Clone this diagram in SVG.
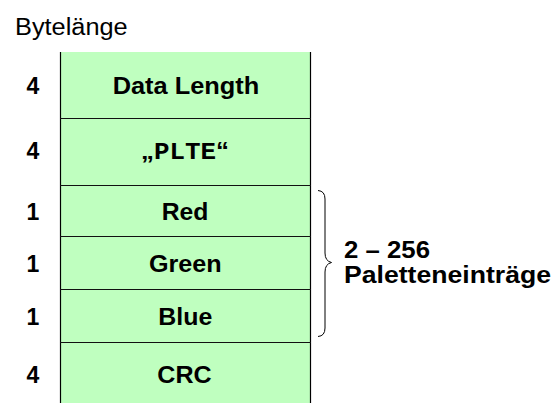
<svg xmlns="http://www.w3.org/2000/svg" width="555" height="403" viewBox="0 0 555 403">
  <style>
    .cell { fill: #BFFFBF; stroke: none; }
    .sep { stroke: #111; stroke-width: 1; fill: none; }
    .side { stroke: #000; stroke-width: 1.2; fill: none; }
    .t { font-family: "Liberation Sans", Arial, sans-serif; font-size: 23px; fill: #000; }
    .b { font-weight: bold; }
    .mono { font-family: "Liberation Mono", "Courier New", monospace; font-weight: bold; }
    .brace { stroke: #000; stroke-width: 1; fill: none; }
  </style>

  <rect width="555" height="403" fill="#fff"/>

  <text class="t" x="15" y="35" textLength="112.7" lengthAdjust="spacingAndGlyphs">Bytelänge</text>

  <!-- chunk fields -->
  <g id="field-length">
    <rect class="cell" x="60" y="52" width="251" height="66.5"/>
    <text class="t b" x="33" y="94" text-anchor="middle">4</text>
    <text class="t b" x="186" y="94" text-anchor="middle" textLength="146.6" lengthAdjust="spacingAndGlyphs">Data Length</text>
  </g>
  <g id="field-type">
    <rect class="cell" x="60" y="118.5" width="251" height="66.5"/>
    <text class="t b" x="33" y="159" text-anchor="middle">4</text>
    <text class="t b" x="185" y="159" text-anchor="middle" textLength="88" lengthAdjust="spacingAndGlyphs">„<tspan class="mono">PLTE</tspan>“</text>
  </g>
  <g id="field-red">
    <rect class="cell" x="60" y="185" width="251" height="51.5"/>
    <text class="t b" x="33" y="220" text-anchor="middle">1</text>
    <text class="t b" x="185" y="220" text-anchor="middle" textLength="46.7" lengthAdjust="spacingAndGlyphs">Red</text>
  </g>
  <g id="field-green">
    <rect class="cell" x="60" y="236.5" width="251" height="53"/>
    <text class="t b" x="33" y="272" text-anchor="middle">1</text>
    <text class="t b" x="185.3" y="272" text-anchor="middle" textLength="72.7" lengthAdjust="spacingAndGlyphs">Green</text>
  </g>
  <g id="field-blue">
    <rect class="cell" x="60" y="289.5" width="251" height="53.5"/>
    <text class="t b" x="33" y="325" text-anchor="middle">1</text>
    <text class="t b" x="185.3" y="325" text-anchor="middle" textLength="54" lengthAdjust="spacingAndGlyphs">Blue</text>
  </g>
  <g id="field-crc">
    <rect class="cell" x="60" y="343" width="251" height="60"/>
    <text class="t b" x="33" y="383.3" text-anchor="middle">4</text>
    <text class="t b" x="184.5" y="383.3" text-anchor="middle" textLength="54.3" lengthAdjust="spacingAndGlyphs">CRC</text>
  </g>

  <!-- grid lines -->
  <g id="grid">
    <path class="side" d="M60.5 52V403M310.5 52V403"/>
    <path class="sep" d="M60 118.5H311M60 185.5H311M60 236.5H311M60 289.5H311M60 342.5H311"/>
  </g>

  <!-- palette entry brace and note -->
  <g id="palette-note">
    <path class="brace" d="M318 190.5Q325 191 325 199V253Q325 261 331.5 262.5Q325 264 325 272V328Q325 336 318 336.5"/>
    <text class="t b" x="344" y="258.3" textLength="86" lengthAdjust="spacingAndGlyphs">2 – 256</text>
    <text class="t b" x="344" y="282.7" textLength="207" lengthAdjust="spacingAndGlyphs">Paletteneinträge</text>
  </g>
</svg>
